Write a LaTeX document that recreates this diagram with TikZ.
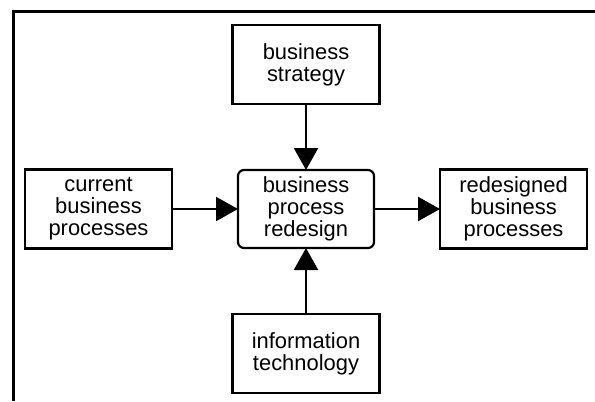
\documentclass[tikz,border=0pt]{standalone}
\usepackage{fontspec}
\setmainfont{Liberation Sans}
\usepackage{tikz}
\usetikzlibrary{positioning}
\usetikzlibrary{arrows.meta}

\begin{document}
\begin{tikzpicture}[x=1bp,y=1bp,node distance=66bp,
	every node/.style={draw,line width=2.2bp,inner sep=2bp,outer sep=0,align=center,font=\fontsize{22}{22}\selectfont},
	box/.style={minimum width=147bp,minimum height=79bp},
	hub/.style={minimum width=136bp,minimum height=78bp,rounded corners=6bp}]
	\useasboundingbox (0,0) rectangle (595,401);
	% frame round the figure
	\draw[line width=2.8bp] (13.5,0) |- (595,389.5);
	\node[hub] (bpr) at (306,192) {business\\process\\redesign};
	\node[box] (strat) [above=of bpr] {business\\strategy};
	\node[box] (it) [below=of bpr] {information\\technology};
	\node[box] (cur) [left=of bpr] {current\\business\\processes};
	\node[box] (new) [right=of bpr] {redesigned\\business\\processes};
    \path[-{Triangle[length=22bp,width=24bp]},line width=2.2bp]
        (strat) edge (bpr)
        (it) edge (bpr)
        (cur) edge (bpr)
        (bpr) edge (new);
\end{tikzpicture}
\end{document}
